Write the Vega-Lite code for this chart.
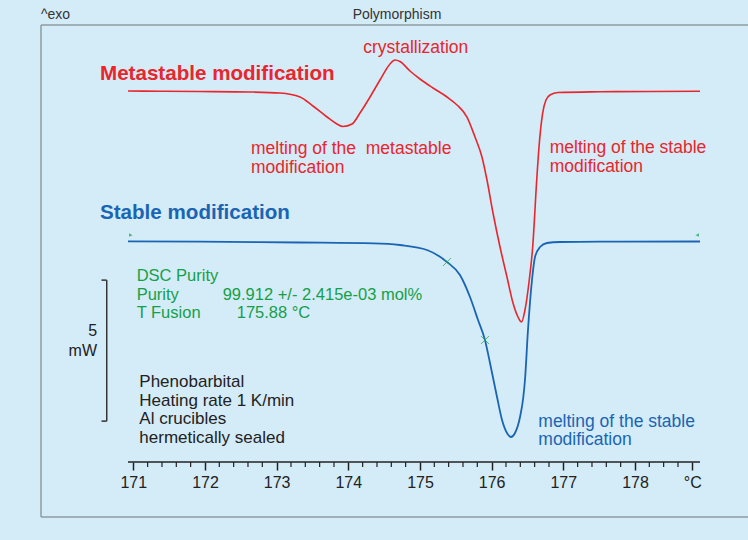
{
  "$schema": "https://vega.github.io/schema/vega-lite/v6.json",
  "width": 707,
  "height": 492,
  "autosize": "none",
  "padding": {"left": 41, "top": 25, "right": 0, "bottom": 23},
  "background": "#d4ebf8",
  "config": {"view": {"stroke": null}, "text": {"font": "Liberation Sans", "lineBreak": "\n"}},
  "datasets": {
    "red": [
      {"T":170.926,"v":15.106},{"T":171.373,"v":15.099},{"T":171.931,"v":15.089},{"T":172.628,"v":15.071},
      {"T":173.047,"v":15.035},{"T":173.326,"v":14.894},{"T":173.507,"v":14.574},{"T":173.703,"v":14.184},
      {"T":173.842,"v":13.936},{"T":173.926,"v":13.848},{"T":174.052,"v":13.936},{"T":174.163,"v":14.326},
      {"T":174.303,"v":14.894},{"T":174.442,"v":15.496},{"T":174.582,"v":16.064},{"T":174.651,"v":16.206},
      {"T":174.721,"v":16.152},{"T":174.861,"v":15.816},{"T":175.000,"v":15.532},{"T":175.182,"v":15.213},
      {"T":175.377,"v":14.894},{"T":175.517,"v":14.610},{"T":175.656,"v":14.184},{"T":175.768,"v":13.475},
      {"T":175.865,"v":12.766},{"T":175.935,"v":11.950},{"T":176.019,"v":10.780},{"T":176.117,"v":9.574},
      {"T":176.214,"v":8.511},{"T":176.298,"v":7.589},{"T":176.368,"v":7.092},{"T":176.417,"v":6.915},
      {"T":176.465,"v":7.340},{"T":176.525,"v":8.404},{"T":176.573,"v":9.585},{"T":176.629,"v":11.950},
      {"T":176.661,"v":13.131},{"T":176.712,"v":14.326},{"T":176.758,"v":14.787},{"T":176.814,"v":14.965},
      {"T":176.926,"v":15.053},{"T":177.512,"v":15.078},{"T":178.209,"v":15.089},{"T":178.907,"v":15.096}
    ],
    "blue": [
      {"T":170.926,"v":9.777},{"T":171.931,"v":9.762},{"T":173.326,"v":9.734},{"T":174.358,"v":9.706},
      {"T":174.721,"v":9.645},{"T":175.098,"v":9.468},{"T":175.377,"v":9.043},{"T":175.558,"v":8.582},
      {"T":175.698,"v":7.801},{"T":175.810,"v":6.986},{"T":175.907,"v":6.277},{"T":175.977,"v":5.461},
      {"T":176.075,"v":4.255},{"T":176.145,"v":3.440},{"T":176.214,"v":2.979},{"T":176.270,"v":2.837},
      {"T":176.326,"v":2.979},{"T":176.396,"v":3.546},{"T":176.442,"v":4.255},{"T":176.465,"v":4.858},
      {"T":176.507,"v":6.631},{"T":176.563,"v":8.404},{"T":176.605,"v":9.220},{"T":176.675,"v":9.574},
      {"T":176.772,"v":9.716},{"T":176.954,"v":9.752},{"T":177.512,"v":9.762},{"T":178.907,"v":9.770}
    ],
    "marks": [{"T":175.377,"v":9.043},{"T":175.907,"v":6.277}],
    "flags": [{"kind":"start","T":170.94,"v":9.92},{"kind":"end","T":178.893,"v":9.92}],
    "vframe": [{"T":169.712,"v":0,"v2":17.447}],
    "hframe": [{"T":169.712,"T2":179.577,"v":17.447},{"T":169.712,"T2":179.577,"v":0}],
    "axisline": [{"T":170.926,"T2":178.907,"v":1.95}],
    "minor": [
      {"T":171.2,"v":1.95,"v2":1.773},{"T":171.4,"v":1.95,"v2":1.773},{"T":171.6,"v":1.95,"v2":1.773},{"T":171.8,"v":1.95,"v2":1.773},
      {"T":172.2,"v":1.95,"v2":1.773},{"T":172.4,"v":1.95,"v2":1.773},{"T":172.6,"v":1.95,"v2":1.773},{"T":172.8,"v":1.95,"v2":1.773},
      {"T":173.2,"v":1.95,"v2":1.773},{"T":173.4,"v":1.95,"v2":1.773},{"T":173.6,"v":1.95,"v2":1.773},{"T":173.8,"v":1.95,"v2":1.773},
      {"T":174.2,"v":1.95,"v2":1.773},{"T":174.4,"v":1.95,"v2":1.773},{"T":174.6,"v":1.95,"v2":1.773},{"T":174.8,"v":1.95,"v2":1.773},
      {"T":175.2,"v":1.95,"v2":1.773},{"T":175.4,"v":1.95,"v2":1.773},{"T":175.6,"v":1.95,"v2":1.773},{"T":175.8,"v":1.95,"v2":1.773},
      {"T":176.2,"v":1.95,"v2":1.773},{"T":176.4,"v":1.95,"v2":1.773},{"T":176.6,"v":1.95,"v2":1.773},{"T":176.8,"v":1.95,"v2":1.773},
      {"T":177.2,"v":1.95,"v2":1.773},{"T":177.4,"v":1.95,"v2":1.773},{"T":177.6,"v":1.95,"v2":1.773},{"T":177.8,"v":1.95,"v2":1.773},
      {"T":178.2,"v":1.95,"v2":1.773},{"T":178.4,"v":1.95,"v2":1.773},{"T":178.6,"v":1.95,"v2":1.773}
    ],
    "barv": [{"T":170.629,"v":3.4,"v2":8.4}],
    "barh": [{"T":170.556,"T2":170.629,"v":8.4},{"T":170.556,"T2":170.629,"v":3.4}],
    "labels": [
      {"kind":"exo","T":169.712,"v":17.66,"label":"^exo"},
      {"kind":"title","T":174.679,"v":17.66,"label":"Polymorphism"},
      {"kind":"boldred","T":170.535,"v":15.514,"label":"Metastable modification"},
      {"kind":"boldblue","T":170.535,"v":10.557,"label":"Stable modification"},
      {"kind":"red","T":174.209,"v":16.465,"label":"crystallization"},
      {"kind":"red","T":172.642,"v":12.862,"label":"melting of the \u00a0metastable\nmodification"},
      {"kind":"red","T":176.810,"v":12.897,"label":"melting of the stable\nmodification"},
      {"kind":"blue","T":176.651,"v":3.202,"label":"melting of the stable\nmodification"},
      {"kind":"green","T":171.047,"v":8.369,"label":"DSC Purity"},
      {"kind":"green","T":171.047,"v":7.695,"label":"Purity"},
      {"kind":"green","T":172.247,"v":7.695,"label":"99.912 +/- 2.415e-03 mol%"},
      {"kind":"green","T":171.047,"v":7.046,"label":"T Fusion"},
      {"kind":"green","T":172.443,"v":7.046,"label":"175.88 °C"},
      {"kind":"black","T":171.084,"v":4.599,"label":"Phenobarbital\nHeating rate 1 K/min\nAl crucibles\nhermetically sealed"},
      {"kind":"scale","T":170.494,"v":6.429,"label":"5"},
      {"kind":"scale","T":170.494,"v":5.720,"label":"mW"}
    ]
  },
  "encoding": {
    "x": {
      "field": "T", "type": "quantitative",
      "scale": {"domain": [169.712, 179.577], "nice": false, "zero": false},
      "axis": {
        "orient": "bottom", "offset": -55,
        "values": [171,172,173,174,175,176,177,178,178.8],
        "labelExpr": "datum.value > 178.5 ? '°C' : datum.label",
        "format": "d",
        "domain": false, "grid": false, "ticks": true,
        "tickSize": 8, "tickWidth": 1.5, "tickColor": "#222222",
        "labelFont": "Liberation Sans", "labelFontSize": 16, "labelColor": "#222222",
        "labelPadding": 4, "labelFlush": false, "labelOverlap": false, "title": null
      }
    },
    "y": {
      "field": "v", "type": "quantitative",
      "scale": {"domain": [0, 17.447], "nice": false, "zero": false},
      "axis": null
    }
  },
  "layer": [
    {"data": {"name": "vframe"}, "mark": {"type": "rule", "color": "#8e9ca4", "strokeWidth": 1.5}, "encoding": {"y2": {"field": "v2"}}},
    {"data": {"name": "hframe"}, "mark": {"type": "rule", "color": "#8e9ca4", "strokeWidth": 1.5}, "encoding": {"x2": {"field": "T2"}}},
    {"data": {"name": "axisline"}, "mark": {"type": "rule", "color": "#222222", "strokeWidth": 1.5}, "encoding": {"x2": {"field": "T2"}}},
    {"data": {"name": "minor"}, "mark": {"type": "rule", "color": "#222222", "strokeWidth": 1.2}, "encoding": {"y2": {"field": "v2"}}},
    {"data": {"name": "barv"}, "mark": {"type": "rule", "color": "#333333", "strokeWidth": 1.5}, "encoding": {"y2": {"field": "v2"}}},
    {"data": {"name": "barh"}, "mark": {"type": "rule", "color": "#333333", "strokeWidth": 1.5}, "encoding": {"x2": {"field": "T2"}}},
    {"data": {"name": "red"}, "mark": {"type": "line", "color": "#e8262c", "strokeWidth": 1.6, "interpolate": "monotone"}},
    {"data": {"name": "blue"}, "mark": {"type": "line", "color": "#1a65b3", "strokeWidth": 1.8, "interpolate": "monotone"}},
    {"data": {"name": "marks"}, "mark": {"type": "point", "shape": "M-1,-1L1,1M-1,1L1,-1", "filled": false, "color": "#22a050", "strokeWidth": 1, "size": 64}},
    {"data": {"name": "flags"}, "mark": {"type": "point", "filled": true, "color": "#14a048", "strokeWidth": 1.2, "size": 64},
     "encoding": {"shape": {"field": "kind", "type": "nominal", "legend": null,
       "scale": {"domain": ["start", "end"], "range": ["M0,1L0,-1L0.9,-0.5L0,-0.1Z", "M0,1L0,-1L-0.9,-0.5L0,-0.1Z"]}}}},
    {"data": {"name": "labels"}, "transform": [{"filter": "datum.kind == 'exo'"}],
     "mark": {"type": "text", "align": "left", "baseline": "alphabetic", "fontSize": 14, "color": "#333333"},
     "encoding": {"text": {"field": "label"}}},
    {"data": {"name": "labels"}, "transform": [{"filter": "datum.kind == 'title'"}],
     "mark": {"type": "text", "align": "center", "baseline": "alphabetic", "fontSize": 14, "color": "#333333"},
     "encoding": {"text": {"field": "label"}}},
    {"data": {"name": "labels"}, "transform": [{"filter": "datum.kind == 'boldred'"}],
     "mark": {"type": "text", "align": "left", "baseline": "alphabetic", "fontSize": 20.6, "fontWeight": "bold", "color": "#e8262c"},
     "encoding": {"text": {"field": "label"}}},
    {"data": {"name": "labels"}, "transform": [{"filter": "datum.kind == 'boldblue'"}],
     "mark": {"type": "text", "align": "left", "baseline": "alphabetic", "fontSize": 20.6, "fontWeight": "bold", "color": "#1a65b3"},
     "encoding": {"text": {"field": "label"}}},
    {"data": {"name": "labels"}, "transform": [{"filter": "datum.kind == 'red'"}],
     "mark": {"type": "text", "align": "left", "baseline": "alphabetic", "fontSize": 17.5, "lineHeight": 18.5, "color": "#e8262c"},
     "encoding": {"text": {"field": "label"}}},
    {"data": {"name": "labels"}, "transform": [{"filter": "datum.kind == 'blue'"}],
     "mark": {"type": "text", "align": "left", "baseline": "alphabetic", "fontSize": 17.5, "lineHeight": 18.5, "color": "#1a65b3"},
     "encoding": {"text": {"field": "label"}}},
    {"data": {"name": "labels"}, "transform": [{"filter": "datum.kind == 'green'"}],
     "mark": {"type": "text", "align": "left", "baseline": "alphabetic", "fontSize": 16.5, "color": "#14a048"},
     "encoding": {"text": {"field": "label"}}},
    {"data": {"name": "labels"}, "transform": [{"filter": "datum.kind == 'black'"}],
     "mark": {"type": "text", "align": "left", "baseline": "alphabetic", "fontSize": 17, "lineHeight": 18.5, "color": "#222222"},
     "encoding": {"text": {"field": "label"}}},
    {"data": {"name": "labels"}, "transform": [{"filter": "datum.kind == 'scale'"}],
     "mark": {"type": "text", "align": "right", "baseline": "alphabetic", "fontSize": 16, "color": "#222222"},
     "encoding": {"text": {"field": "label"}}}
  ]
}
